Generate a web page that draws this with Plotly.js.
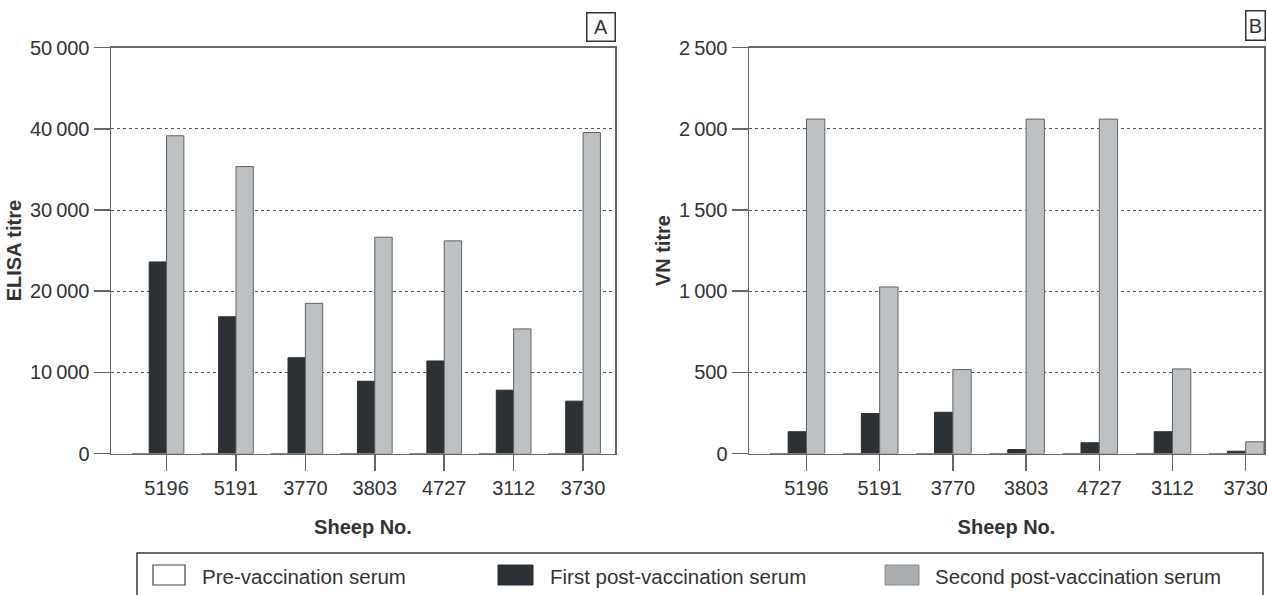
<!DOCTYPE html>
<html>
<head>
<meta charset="utf-8">
<script src="https://cdn.plot.ly/plotly-3.0.1.min.js"></script>
<style>
  html, body { margin: 0; padding: 0; background: #ffffff; }
  #chart { width: 1267px; height: 595px; }
</style>
</head>
<body>
<div id="chart"></div>
<script>
// ---- data ----
const sheep = ['5196', '5191', '3770', '3803', '4727', '3112', '3730'];
const seriesNames = ['Pre-vaccination serum', 'First post-vaccination serum', 'Second post-vaccination serum'];
const elisaPre    = [0, 0, 0, 0, 0, 0, 0];
const elisaFirst  = [23600, 16850, 11800, 8900, 11400, 7800, 6450];
const elisaSecond = [39150, 35350, 18500, 26650, 26200, 15350, 39550];
const vnPre    = [0, 0, 0, 0, 0, 0, 0];
const vnFirst  = [134, 246, 254, 24, 66, 134, 14];
const vnSecond = [2060, 1026, 517, 2060, 2060, 521, 72];
const elisaTicks = [0, 10000, 20000, 30000, 40000, 50000];
const elisaTickText = ['0', '10\u2009000', '20\u2009000', '30\u2009000', '40\u2009000', '50\u2009000'];
const vnTicks = [0, 500, 1000, 1500, 2000, 2500];
const vnTickText = ['0', '500', '1\u2009000', '1\u2009500', '2\u2009000', '2\u2009500'];

// ---- styling ----
const W = 1267, H = 595;
const px = v => v / W;
const py = v => 1 - v / H;
const FONT = '"Liberation Sans", Arial, Helvetica, sans-serif';
const TXT = '#333333';
const AX = '#666666';
const fills = ['#ffffff', '#2c3135', '#bdc1c3'];
const lines = ['#444444', '#2a2e31', '#5f6365'];
const barLines = [AX, '#2a2e31', '#5f6365'];
const BW = 0.25;
const offsets = [-0.5, -0.25, 0];

function mk(vals, i, xa, ya) {
  return {
    type: 'bar', x: sheep, y: vals, name: seriesNames[i],
    xaxis: xa, yaxis: ya, width: BW, offset: offsets[i],
    marker: { color: fills[i], line: { color: barLines[i], width: 1 } },
    showlegend: false, hoverinfo: 'x+y+name'
  };
}

const data = [
  mk(elisaPre, 0, 'x', 'y'), mk(elisaFirst, 1, 'x', 'y'), mk(elisaSecond, 2, 'x', 'y'),
  mk(vnPre, 0, 'x2', 'y2'), mk(vnFirst, 1, 'x2', 'y2'), mk(vnSecond, 2, 'x2', 'y2')
];

const yDom = [py(453.5), py(47.7)];
function xAxis(dom, range) {
  return {
    domain: dom, type: 'category', range: range,
    showline: true, linecolor: AX, linewidth: 1.5, mirror: true,
    ticks: 'outside', ticklen: 16, tickwidth: 1.5, tickcolor: AX,
    showgrid: false, zeroline: false,
    tickfont: { family: FONT, size: 20, color: TXT },
    title: { text: 'Sheep No.', standoff: 22, font: { family: FONT, size: 20, color: TXT, weight: 700 } },
    fixedrange: true
  };
}
function yAxis(range, tv, tt, title, anchor) {
  return {
    domain: yDom, range: range, anchor: anchor,
    tickmode: 'array', tickvals: tv, ticktext: tt,
    showline: true, linecolor: AX, linewidth: 1.5, mirror: true,
    ticks: 'outside', ticklen: 16, tickwidth: 1.5, tickcolor: AX,
    showgrid: true, gridcolor: '#555555', gridwidth: 1, griddash: 'dot',
    zeroline: false,
    tickfont: { family: FONT, size: 20, color: TXT },
    title: { text: title, standoff: 3, font: { family: FONT, size: 20, color: TXT, weight: 700 } },
    fixedrange: true
  };
}

const xa = xAxis([px(111), px(615)], [-0.80, 6.46]);
const xb = xAxis([px(749), px(1264)], [-0.785, 6.25]);
xa.anchor = 'y'; xb.anchor = 'y2';

const legendY0 = py(585), legendY1 = py(565);
const shapes = [
  { type: 'rect', xref: 'paper', yref: 'paper', x0: px(137), x1: px(1263), y0: -0.2, y1: py(553),
    line: { color: '#3a3a3a', width: 1.5 }, fillcolor: 'rgba(0,0,0,0)' },
  { type: 'rect', xref: 'paper', yref: 'paper', x0: px(153), x1: px(185), y0: legendY0, y1: legendY1,
    line: { color: lines[0], width: 1.2 }, fillcolor: fills[0] },
  { type: 'rect', xref: 'paper', yref: 'paper', x0: px(498), x1: px(533), y0: legendY0, y1: legendY1,
    line: { color: lines[1], width: 1 }, fillcolor: fills[1] },
  { type: 'rect', xref: 'paper', yref: 'paper', x0: px(885), x1: px(919), y0: legendY0, y1: legendY1,
    line: { color: '#888c8e', width: 1 }, fillcolor: '#a9adaf' }
];

const legX = [200, 548, 933];
const annotations = seriesNames.map((n, i) => ({
  xref: 'paper', yref: 'paper', x: px(legX[i]), y: py(576), xanchor: 'left', yanchor: 'middle',
  text: n, showarrow: false, font: { family: FONT, size: 20.5, color: TXT }
}));
annotations.push(
  { xref: 'paper', yref: 'paper', x: px(600.5), y: py(27), xanchor: 'center', yanchor: 'middle',
    text: 'A', showarrow: false, width: 27, height: 27, borderpad: 0, bordercolor: '#333', borderwidth: 1.5,
    font: { family: FONT, size: 20, color: TXT } },
  { xref: 'paper', yref: 'paper', x: px(1255), y: py(25.5), xanchor: 'center', yanchor: 'middle',
    text: 'B', showarrow: false, width: 18, height: 28, borderpad: 0, bordercolor: '#333', borderwidth: 1.5,
    font: { family: FONT, size: 20, color: TXT } }
);

const layout = {
  width: W, height: H,
  margin: { l: 0, r: 0, t: 0, b: 0 },
  paper_bgcolor: '#ffffff', plot_bgcolor: '#ffffff',
  barmode: 'overlay',
  showlegend: false,
  font: { family: FONT, color: TXT },
  xaxis: xa, xaxis2: xb,
  yaxis: yAxis([0, 50000], elisaTicks, elisaTickText, 'ELISA titre', 'x'),
  yaxis2: yAxis([0, 2500], vnTicks, vnTickText, 'VN titre', 'x2'),
  shapes: shapes,
  annotations: annotations
};

Plotly.newPlot('chart', data, layout, { displayModeBar: false, staticPlot: true });
</script>
</body>
</html>
